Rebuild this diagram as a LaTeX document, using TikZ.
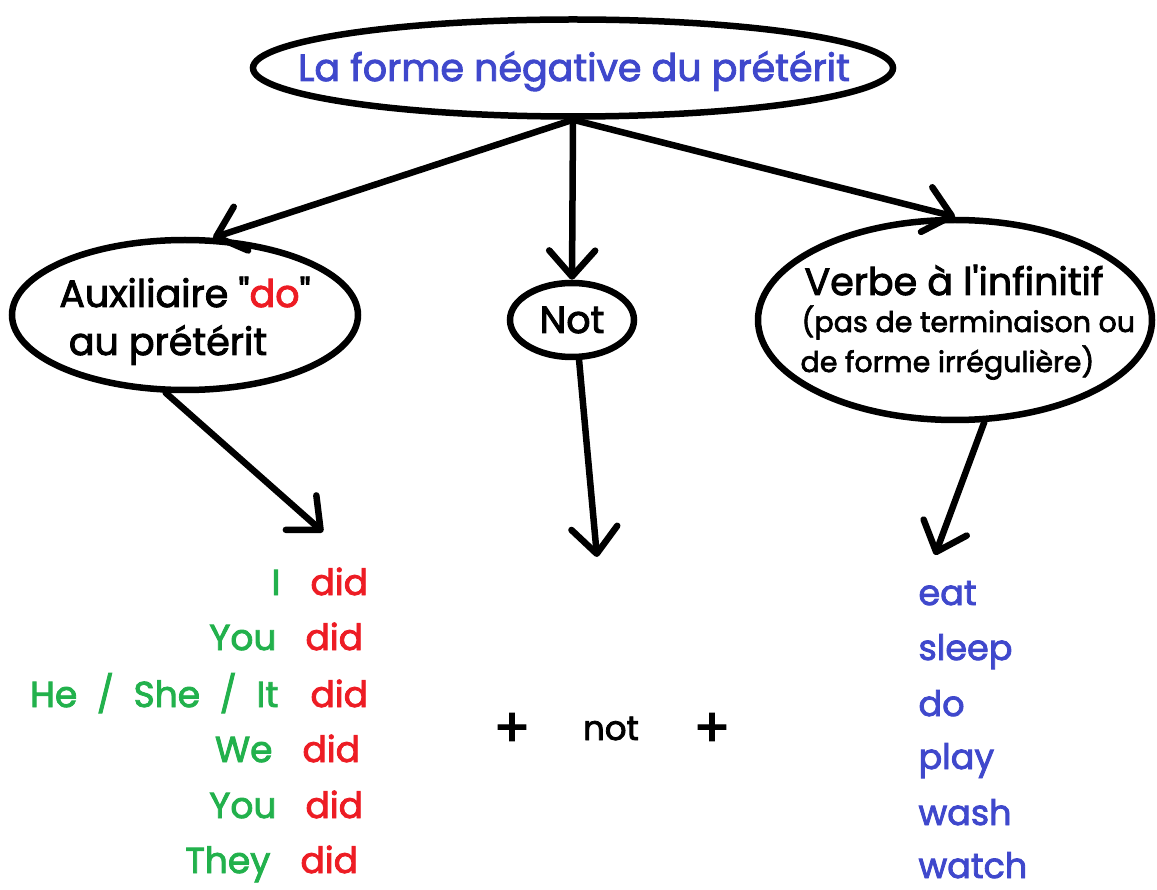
\documentclass[tikz,border=0pt]{standalone}
\usepackage{fontspec}
\setmainfont{Poppins}[AutoFakeBold=2.4]
\usepackage{xcolor}
\usetikzlibrary{shapes.geometric, arrows.meta, positioning}

\definecolor{bleu}{RGB}{63,72,204}
\definecolor{vert}{RGB}{34,177,76}
\definecolor{rouge}{RGB}{237,28,36}

\tikzset{
  bulle/.style={ellipse, draw, line width=6.5pt, inner sep=0pt},
  fleche/.style={line width=6.5pt, line cap=round, -{Straight Barb[length=26pt, width=46pt, round]}},
  grand/.style={anchor=base, font=\bfseries\fontsize{38}{46}\selectfont},
  petit/.style={anchor=base west, font=\bfseries\fontsize{28.5}{34}\selectfont},
  pron/.style={text=vert, anchor=base east, font=\bfseries\fontsize{36}{40}\selectfont},
  did/.style={text=rouge, anchor=base west, font=\bfseries\fontsize{36}{40}\selectfont},
  verbe/.style={text=bleu, anchor=base west, font=\bfseries\fontsize{35}{40}\selectfont},
  plus/.style={font=\bfseries\addfontfeature{FakeBold=5}\fontsize{54}{60}\selectfont}
}

\begin{document}
\begin{tikzpicture}[x=1pt, y=-1pt]
  \useasboundingbox (0,0) rectangle (1157,890);

  % les bulles
  \node[bulle, minimum width=640, minimum height=97] (titre) at (573,68) {};
  \node[grand, text=bleu, font=\bfseries\fontsize{38}{44}\selectfont] (titretxt) at (574,81)
        {La forme négative du prétérit};
  \node[bulle, minimum width=346, minimum height=150] (aux) at (185,315) {};
  \node[grand] (auxtxt1) at (185,307) {Auxiliaire \textquotedbl\textcolor{rouge}{do}\textquotedbl};
  \node[grand] (auxtxt2) at (168,355) {au prétérit};
  \node[bulle, minimum width=124, minimum height=74] (not) at (572,320) {};
  \node[grand] (nottxt) at (572,333) {Not};
  \node[bulle, minimum width=394, minimum height=200] (verbe) at (955,320) {};
  \node[grand, anchor=base west] (inf1) at (801,295) {Verbe à l\textquotesingle infinitif};
  \node[petit] (inf2) at (798,332) {(pas de terminaison ou};
  \node[petit] (inf3) at (797,372) {de forme irrégulière)};

  % les bouts des fleches
  \coordinate (c1) at (323,532);
  \coordinate (c2) at (597,557);
  \coordinate (c3) at (935,555);

  \draw[fleche] (titre.south) -- (aux.70);
  \draw[fleche] (titre.south) -- (not.north);
  \draw[fleche] (titre.south) -- (verbe.north);
  \draw[fleche] (aux.256) -- (c1);
  \draw[fleche] (not.280) -- (c2);
  \draw[fleche] (verbe.286) -- (c3);

  % sujets + did
  \node[pron] (p1) at (284,595) {I};
  \node[pron] (p2) at (280,650) {You};
  \node[pron] (p3) at (282,707) {He\hspace{10pt} /\hspace{10pt} She\hspace{10pt} /\hspace{10pt} It};
  \node[pron] (p4) at (276,762) {We};
  \node[pron] (p5) at (280,818) {You};
  \node[pron] (p6) at (274,873) {They};
  \node[did] (d1) at (307,595) {did};
  \node[did] (d2) at (302,650) {did};
  \node[did] (d3) at (307,707) {did};
  \node[did] (d4) at (299,762) {did};
  \node[did] (d5) at (302,818) {did};
  \node[did] (d6) at (297,873) {did};

  % + not +
  \node[plus] (plus1) at (512,730) {+};
  \node[grand, font=\bfseries\fontsize{34}{40}\selectfont] (mot) at (611,740) {not};
  \node[plus] (plus2) at (712,730) {+};

  % verbes
  \node[verbe] (v1) at (915,605) {eat};
  \node[verbe] (v2) at (915,660) {sleep};
  \node[verbe] (v3) at (915,716) {do};
  \node[verbe] (v4) at (915,769) {play};
  \node[verbe] (v5) at (915,825) {wash};
  \node[verbe] (v6) at (915,878) {watch};
\end{tikzpicture}
\end{document}
